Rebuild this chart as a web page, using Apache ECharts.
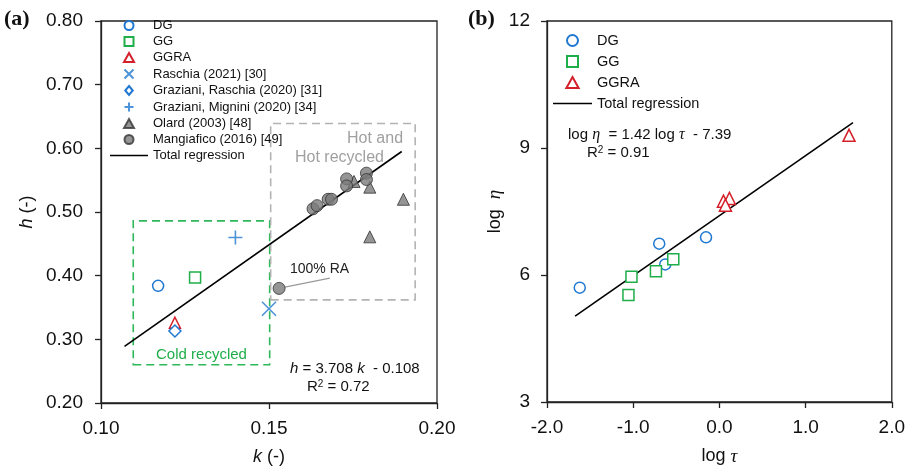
<!DOCTYPE html>
<html>
<head>
<meta charset="utf-8">
<script src="https://cdn.jsdelivr.net/npm/echarts@6/dist/echarts.min.js"></script>
<style>
  html, body { margin: 0; padding: 0; background: #fff; }
  #chart { width: 908px; height: 471px; }
</style>
</head>
<body>
<div id="chart"></div>
<script>
// (a) h vs k
var dgA = [[0.117, 0.384]];
var ggA = [[0.128, 0.397]];
var ggraA = [[0.122, 0.326]];
var raschia2021 = [[0.150, 0.348]];
var grazianiRaschia = [[0.122, 0.313]];
var grazianiMignini = [[0.140, 0.460]];
var olard2003 = [[0.1753, 0.548], [0.180, 0.539], [0.180, 0.461], [0.190, 0.520]];
var mangiafico2016 = [[0.153, 0.380], [0.1631, 0.505], [0.1643, 0.510], [0.1676, 0.520], [0.1686, 0.520],
  [0.1731, 0.552], [0.1731, 0.541], [0.179, 0.561], [0.179, 0.551]];
var regressionA = [[0.107, 0.289], [0.1895, 0.595]];
var leaderRA = [[0.1547, 0.382], [0.1681, 0.396]];
var coldBox = [[0.1096, 0.260], [0.1502, 0.486]];
var hotBox = [[0.1505, 0.362], [0.1935, 0.639]];

// (b) log eta vs log tau
var dgB = [[-1.62, 5.70], [-0.698, 6.74], [-0.628, 6.25], [-0.155, 6.89]];
var ggB = [[-1.02, 5.96], [-1.055, 5.53], [-0.736, 6.09], [-0.535, 6.37]];
var ggraB = [[0.047, 7.745], [0.116, 7.81], [0.07, 7.65], [1.504, 9.30]];
var regressionB = [[-1.674, 5.03], [1.55, 9.60]];

var kTicks = [0.10, 0.15, 0.20];
var hTicks = [0.20, 0.30, 0.40, 0.50, 0.60, 0.70, 0.80];
var tauTicks = [-2.0, -1.0, 0.0, 1.0, 2.0];
var etaTicks = [3, 6, 9, 12];

var BLUE = '#1f78d1';
var GREEN = '#1fae4a';
var RED = '#d4202a';
var GRAY = '#7a7a7a';
var SANS = 'Liberation Sans, Arial, sans-serif';
var SERIF = 'Liberation Serif, Times New Roman, serif';

// legend icons as paths so that they keep their aspect inside a wide legend slot
var icons = {
  circle: 'path://M10,5A5,5,0,1,1,0,5A5,5,0,1,1,10,5Z',
  rect: 'path://M0,0L10,0L10,10L0,10Z',
  triangle: 'path://M5,0L10,9L0,9Z',
  diamond: 'path://M5,0L10,6L5,12L0,6Z',
  cross: 'path://M0,0L10,10M10,0L0,10',
  plus: 'path://M5,0L5,10M0,5L10,5',
  line: 'path://M0,0L40,0L40,1.6L0,1.6Z'
};

function hollow(color) {
  return { color: '#fff', borderColor: color, borderWidth: 1.5, opacity: 1 };
}

function axisCommon(gridIndex, min, max, interval, digits) {
  return {
    type: 'value', gridIndex: gridIndex, min: min, max: max, interval: interval,
    axisLine: { onZero: false, lineStyle: { color: '#222', width: 1.3 } },
    axisTick: { length: 6, lineStyle: { color: '#222', width: 1.3 } },
    axisLabel: {
      fontSize: 19, color: '#111', fontFamily: SANS,
      formatter: function (v) { return v.toFixed(digits); }
    },
    splitLine: { show: false },
    nameLocation: 'middle',
    nameTextStyle: { fontSize: 18, color: '#111', fontFamily: SANS }
  };
}

var xA = axisCommon(0, kTicks[0], kTicks[kTicks.length - 1], 0.05, 2);
xA.axisLabel.margin = 16;
xA.name = '{i|k} (-)';
xA.nameGap = 45;
xA.nameTextStyle.rich = { i: { fontStyle: 'italic', fontSize: 18, fontFamily: SANS, color: '#111' } };

var yA = axisCommon(0, hTicks[0], hTicks[hTicks.length - 1], 0.1, 2);
yA.axisLabel.margin = 18;
yA.name = '{i|h} (-)';
yA.nameGap = 65;
yA.nameRotate = 90;
yA.nameTextStyle.rich = { i: { fontStyle: 'italic', fontSize: 18, fontFamily: SANS, color: '#111' } };

var xB = axisCommon(1, tauTicks[0], tauTicks[tauTicks.length - 1], 1, 1);
xB.axisLabel.margin = 16;
xB.name = 'log {g|τ}';
xB.nameGap = 45;
xB.nameTextStyle.rich = { g: { fontStyle: 'italic', fontSize: 19, fontFamily: SERIF, color: '#111' } };

var yB = axisCommon(1, etaTicks[0], etaTicks[etaTicks.length - 1], 3, 0);
yB.axisLabel.margin = 17;
yB.name = 'log  {g|η}';
yB.nameGap = 42;
yB.nameRotate = 90;
yB.nameTextStyle.rich = { g: { fontStyle: 'italic', fontSize: 19, fontFamily: SERIF, color: '#111' } };

var myChart = echarts.init(document.getElementById('chart'), null, { renderer: 'canvas' });

var option = {
  backgroundColor: '#fff',
  animation: false,
  grid: [
    { left: 101, top: 21, width: 336, height: 385, show: true, borderColor: '#222', borderWidth: 1.3, backgroundColor: 'transparent' },
    { left: 547, top: 21, width: 345, height: 385, show: true, borderColor: '#222', borderWidth: 1.3, backgroundColor: 'transparent' }
  ],
  xAxis: [xA, xB],
  yAxis: [yA, yB],
  legend: [
    {
      orient: 'vertical', left: 110, top: 19, padding: 0, itemWidth: 38, itemHeight: 9, itemGap: 3,
      textStyle: { fontSize: 13, color: '#111', fontFamily: SANS },
      data: [
        { name: 'DG', icon: icons.circle },
        { name: 'GG', icon: icons.rect },
        { name: 'GGRA', icon: icons.triangle },
        { name: 'Raschia (2021) [30]', icon: icons.cross },
        { name: 'Graziani, Raschia (2020) [31]', icon: icons.diamond },
        { name: 'Graziani, Mignini (2020) [34]', icon: icons.plus },
        { name: 'Olard (2003) [48]', icon: icons.triangle },
        { name: 'Mangiafico (2016) [49]', icon: icons.circle },
        { name: 'Total regression', icon: icons.line }
      ]
    },
    {
      orient: 'vertical', left: 553, top: 33, padding: 0, itemWidth: 39, itemHeight: 11, itemGap: 6,
      textStyle: { fontSize: 14.5, color: '#111', fontFamily: SANS },
      data: [
        { name: 'DG', icon: icons.circle },
        { name: 'GG', icon: icons.rect },
        { name: 'GGRA', icon: icons.triangle },
        { name: 'Total regression', icon: icons.line }
      ]
    }
  ],
  series: [
    {
      name: 'Total regression', type: 'line', xAxisIndex: 0, yAxisIndex: 0, data: regressionA,
      showSymbol: false, symbol: 'none', lineStyle: { color: '#000', width: 1.6 }, itemStyle: { color: '#000' },
      z: 1,
      markArea: {
        silent: true,
        data: [
          [{ coord: coldBox[0], itemStyle: { color: 'rgba(0,0,0,0)', borderColor: '#2fb85a', borderWidth: 1.6, borderType: [8, 5] },
             label: { show: true, position: 'insideBottom', distance: 3, formatter: 'Cold recycled', color: '#1fae4a', fontSize: 15, fontFamily: SANS } },
           { coord: coldBox[1] }],
          [{ coord: hotBox[0], itemStyle: { color: 'rgba(0,0,0,0)', borderColor: '#b3b3b3', borderWidth: 1.6, borderType: [8, 5] },
             label: { show: false } },
           { coord: hotBox[1] }]
        ]
      }
    },
    {
      name: 'leader', type: 'line', xAxisIndex: 0, yAxisIndex: 0, data: leaderRA,
      showSymbol: false, symbol: 'none', lineStyle: { color: '#9a9a9a', width: 1.2 }, silent: true, z: 1
    },
    { name: 'DG', type: 'scatter', xAxisIndex: 0, yAxisIndex: 0, data: dgA, symbol: 'circle', symbolSize: 11, itemStyle: hollow(BLUE), z: 3 },
    { name: 'GG', type: 'scatter', xAxisIndex: 0, yAxisIndex: 0, data: ggA, symbol: 'rect', symbolSize: 11, itemStyle: hollow(GREEN), z: 3 },
    { name: 'GGRA', type: 'scatter', xAxisIndex: 0, yAxisIndex: 0, data: ggraA, symbol: 'triangle', symbolSize: 11, itemStyle: hollow(RED), z: 3 },
    { name: 'Raschia (2021) [30]', type: 'scatter', xAxisIndex: 0, yAxisIndex: 0, data: raschia2021, symbol: icons.cross, symbolSize: 14,
      itemStyle: { color: 'none', borderColor: BLUE, borderWidth: 1.6 }, z: 3 },
    { name: 'Graziani, Raschia (2020) [31]', type: 'scatter', xAxisIndex: 0, yAxisIndex: 0, data: grazianiRaschia, symbol: 'diamond', symbolSize: 12,
      itemStyle: hollow(BLUE), z: 3 },
    { name: 'Graziani, Mignini (2020) [34]', type: 'scatter', xAxisIndex: 0, yAxisIndex: 0, data: grazianiMignini, symbol: icons.plus, symbolSize: 14,
      itemStyle: { color: 'none', borderColor: BLUE, borderWidth: 1.6 }, z: 3 },
    { name: 'Olard (2003) [48]', type: 'scatter', xAxisIndex: 0, yAxisIndex: 0, data: olard2003, symbol: 'triangle', symbolSize: 12,
      itemStyle: { color: GRAY, borderColor: '#333', borderWidth: 1 }, z: 3 },
    { name: 'Mangiafico (2016) [49]', type: 'scatter', xAxisIndex: 0, yAxisIndex: 0, data: mangiafico2016, symbol: 'circle', symbolSize: 12,
      itemStyle: { color: GRAY, borderColor: '#333', borderWidth: 1 }, z: 3 },

    { name: 'Total regression', type: 'line', xAxisIndex: 1, yAxisIndex: 1, data: regressionB,
      showSymbol: false, symbol: 'none', lineStyle: { color: '#000', width: 1.6 }, itemStyle: { color: '#000' }, z: 1 },
    { name: 'DG', type: 'scatter', xAxisIndex: 1, yAxisIndex: 1, data: dgB, symbol: 'circle', symbolSize: 11, itemStyle: hollow(BLUE), z: 3 },
    { name: 'GG', type: 'scatter', xAxisIndex: 1, yAxisIndex: 1, data: ggB, symbol: 'rect', symbolSize: 11, itemStyle: hollow(GREEN), z: 3 },
    { name: 'GGRA', type: 'scatter', xAxisIndex: 1, yAxisIndex: 1, data: ggraB, symbol: 'triangle', symbolSize: 12, itemStyle: hollow(RED), z: 3 }
  ],
  graphic: [
    { type: 'text', left: 4, top: 8, style: { text: '(a)', fontSize: 22, fontWeight: 'bold', fontFamily: SERIF, fill: '#111' } },
    { type: 'text', left: 468, top: 8, style: { text: '(b)', fontSize: 22, fontWeight: 'bold', fontFamily: SERIF, fill: '#111' } },
    { type: 'text', left: 347, top: 131, style: { text: 'Hot and', fontSize: 16, fontFamily: SANS, fill: '#a0a0a0' } },
    { type: 'text', left: 295, top: 150, style: { text: 'Hot recycled', fontSize: 16, fontFamily: SANS, fill: '#a0a0a0' } },
    { type: 'text', left: 290, top: 262, style: { text: '100% RA', fontSize: 14, fontFamily: SANS, fill: '#222' } },
    { type: 'text', left: 290, top: 361, style: {
        text: '{i|h} = 3.708 {i|k}  - 0.108', fontSize: 15, fontFamily: SANS, fill: '#111',
        rich: { i: { fontStyle: 'italic', fontSize: 15, fontFamily: SANS, fill: '#111' } } } },
    { type: 'text', left: 307, top: 379, style: {
        text: 'R{s|2} = 0.72', fontSize: 15, fontFamily: SANS, fill: '#111',
        rich: { s: { fontSize: 10, verticalAlign: 'top', padding: [0, 0, 6, 0], fontFamily: SANS, fill: '#111' } } } },
    { type: 'text', left: 568, top: 127, style: {
        text: 'log {g|η}  = 1.42 log {g|τ}  - 7.39', fontSize: 15, fontFamily: SANS, fill: '#111',
        rich: { g: { fontStyle: 'italic', fontSize: 16, fontFamily: SERIF, fill: '#111' } } } },
    { type: 'text', left: 587, top: 145, style: {
        text: 'R{s|2} = 0.91', fontSize: 15, fontFamily: SANS, fill: '#111',
        rich: { s: { fontSize: 10, verticalAlign: 'top', padding: [0, 0, 6, 0], fontFamily: SANS, fill: '#111' } } } }
  ]
};

myChart.setOption(option);
</script>
</body>
</html>
